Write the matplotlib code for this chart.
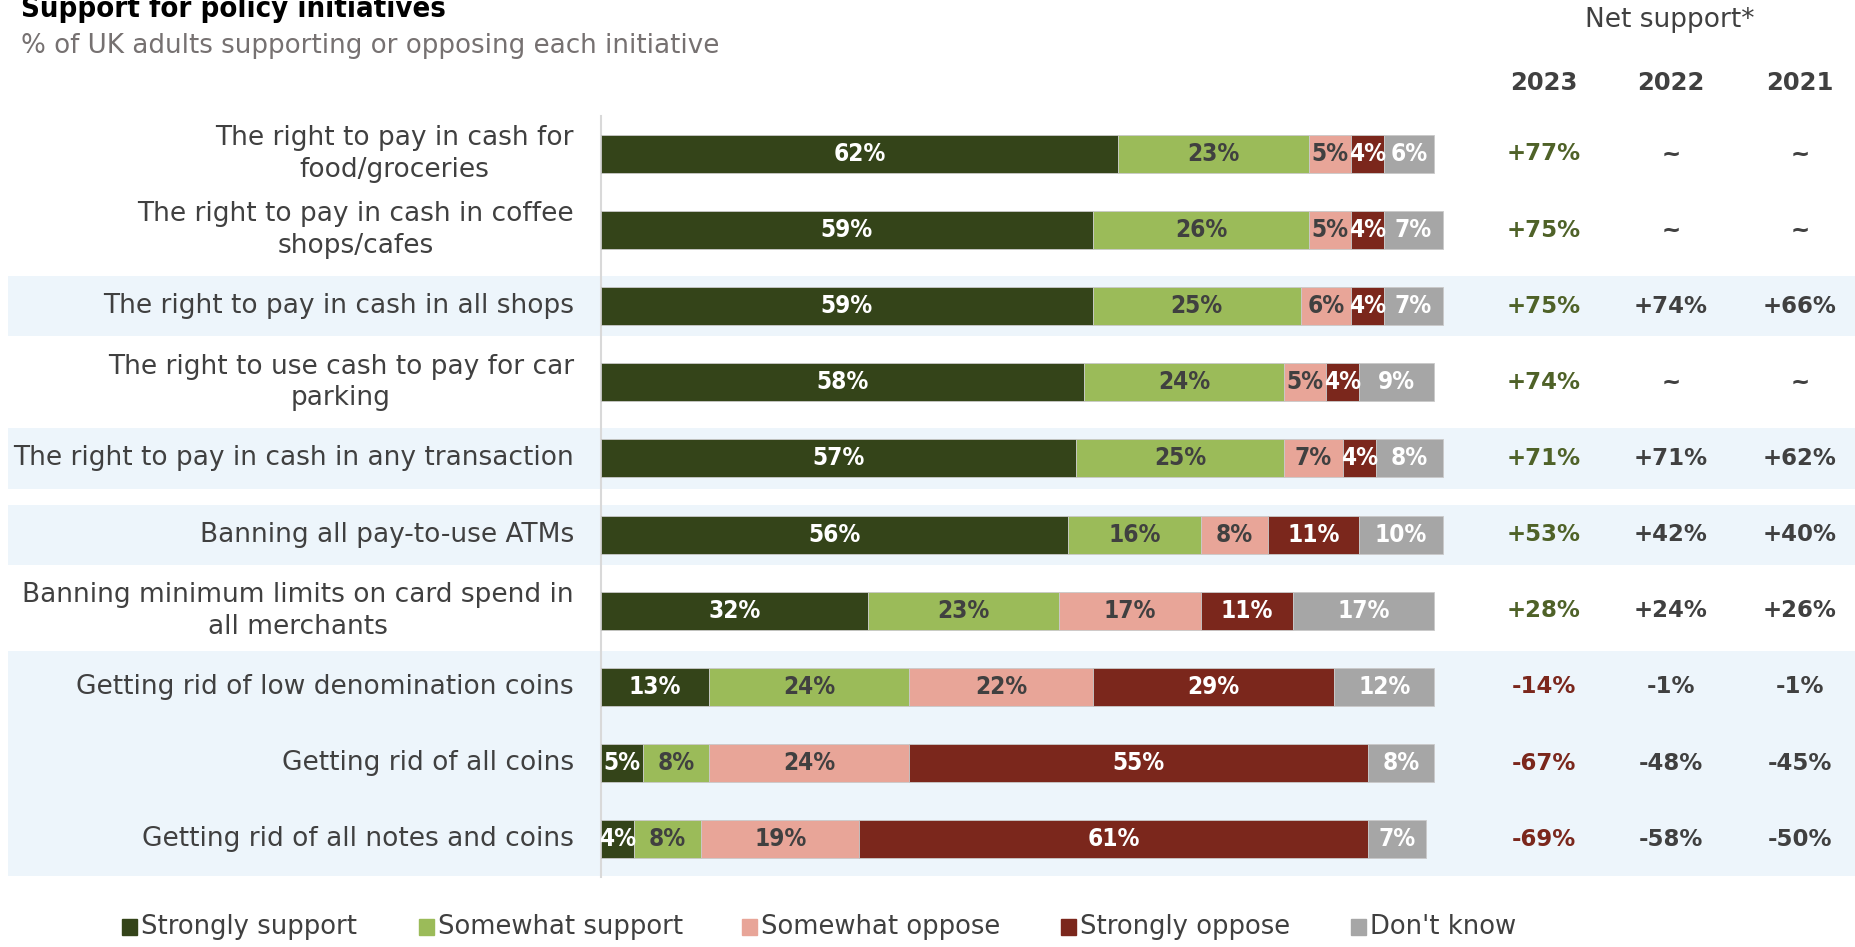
import matplotlib.pyplot as plt
from matplotlib.patches import Rectangle

labels = [
    "The right to pay in cash for\nfood/groceries",
    "The right to pay in cash in coffee\nshops/cafes",
    "The right to pay in cash in all shops",
    "The right to use cash to pay for car\nparking",
    "The right to pay in cash in any transaction",
    "Banning all pay-to-use ATMs",
    "Banning minimum limits on card spend in\nall merchants",
    "Getting rid of low denomination coins",
    "Getting rid of all coins",
    "Getting rid of all notes and coins",
]
strongly_support = [62, 59, 59, 58, 57, 56, 32, 13, 5, 4]
somewhat_support = [23, 26, 25, 24, 25, 16, 23, 24, 8, 8]
somewhat_oppose = [5, 5, 6, 5, 7, 8, 17, 22, 24, 19]
strongly_oppose = [4, 4, 4, 4, 4, 11, 11, 29, 55, 61]
dont_know = [6, 7, 7, 9, 8, 10, 17, 12, 8, 7]

net_2023 = [77, 75, 75, 74, 71, 53, 28, -14, -67, -69]
net_2022 = [None, None, 74, None, 71, 42, 24, -1, -48, -58]
net_2021 = [None, None, 66, None, 62, 40, 26, -1, -45, -50]
years = ["2023", "2022", "2021"]

series_names = ["Strongly support", "Somewhat support", "Somewhat oppose",
                "Strongly oppose", "Don't know"]
series_colors = ["#344419", "#9BBB59", "#E8A598", "#7B271C", "#A6A6A6"]
value_colors = ["white", "#404040", "#404040", "white", "white"]

shaded_rows = [2, 4, 5]
shaded_block = (7, 9)

W, H = 1856, 947
fig = plt.figure(figsize=(W / 100, H / 100), dpi=100)
ax = fig.add_axes([0, 0, 1, 1])

# pixel layout -> data units (x in percent, y in rows)
X0, XS = 601.0, 8.333
Y0, YS = 153.9, 76.14
ax.set_xlim(-X0 / XS, (W - X0) / XS)
ax.set_ylim((H - Y0) / YS, -Y0 / YS)
ax.axis("off")


def px(x):
    return (x - X0) / XS


def py(y):
    return (y - Y0) / YS


cond = dict(fontstretch="condensed")

# shaded background bands
band_left = px(8)
band_right = px(W)
for r in shaded_rows:
    ax.add_patch(Rectangle((band_left, r - 0.395), band_right - band_left, 0.79,
                           color="#EDF5FB", lw=0, zorder=0))
ax.add_patch(Rectangle((band_left, shaded_block[0] - 0.47), band_right - band_left,
                       shaded_block[1] - shaded_block[0] + 0.96,
                       color="#EDF5FB", lw=0, zorder=0))

ax.plot([0, 0], [-0.5, 9.5], color="#D9D9D9", lw=1.5, zorder=1)

series = [strongly_support, somewhat_support, somewhat_oppose, strongly_oppose, dont_know]
rows = list(range(len(labels)))
left = [0] * len(labels)
for vals, col, tcol in zip(series, series_colors, value_colors):
    ax.barh(rows, vals, left=left, height=0.5, color=col, edgecolor="#C9C9C9",
            linewidth=0.6, zorder=2)
    for r, (v, l) in enumerate(zip(vals, left)):
        ax.text(l + v / 2, r, f"{v}%", ha="center", va="center", color=tcol,
                fontsize=17.5, fontweight="bold", zorder=3, **cond)
    left = [l + v for l, v in zip(left, vals)]

for r, lab in enumerate(labels):
    ax.text(px(574), r, lab, ha="right", va="center", multialignment="center",
            color="#404040", fontsize=19, linespacing=1.28)


def fmt(v):
    if v is None:
        return "~"
    return f"+{v}%" if v > 0 else f"{v}%"


col_x = [px(1544), px(1671), px(1800)]
for yr, cx in zip(years, col_x):
    ax.text(cx, py(83), yr, ha="center", va="center", color="#404040",
            fontsize=17.5, fontweight="bold")
ax.text(px(1670), py(20), "Net support*", ha="center", va="center",
        color="#404040", fontsize=19)

for r in rows:
    v = net_2023[r]
    c = "#4F6228" if v > 0 else "#7B271C"
    ax.text(col_x[0], r, fmt(v), ha="center", va="center", color=c,
            fontsize=16.5, fontweight="bold")
    for vals, cx in zip([net_2022, net_2021], col_x[1:]):
        ax.text(cx, r, fmt(vals[r]), ha="center", va="center", color="#404040",
                fontsize=16.5, fontweight="bold")

fig.text(21 / W, 1 - 17 / H, "Support for policy initiatives", ha="left",
         va="baseline", fontsize=21, fontweight="bold", color="black", **cond)
fig.text(21 / W, 1 - 53 / H, "% of UK adults supporting or opposing each initiative",
         ha="left", va="baseline", fontsize=18.8, color="#767171")

# legend
leg_sq = [122, 419, 742, 1061, 1351]
leg_y = 927
for name, col, sx in zip(series_names, series_colors, leg_sq):
    fig.patches.append(Rectangle((sx / W, 1 - (leg_y + 8) / H), 15 / W, 16 / H,
                                 color=col, transform=fig.transFigure, figure=fig))
    fig.text((sx + 19) / W, 1 - leg_y / H, name, ha="left", va="center",
             fontsize=18.6, color="#404040")

fig.savefig("out.png", dpi=100)
